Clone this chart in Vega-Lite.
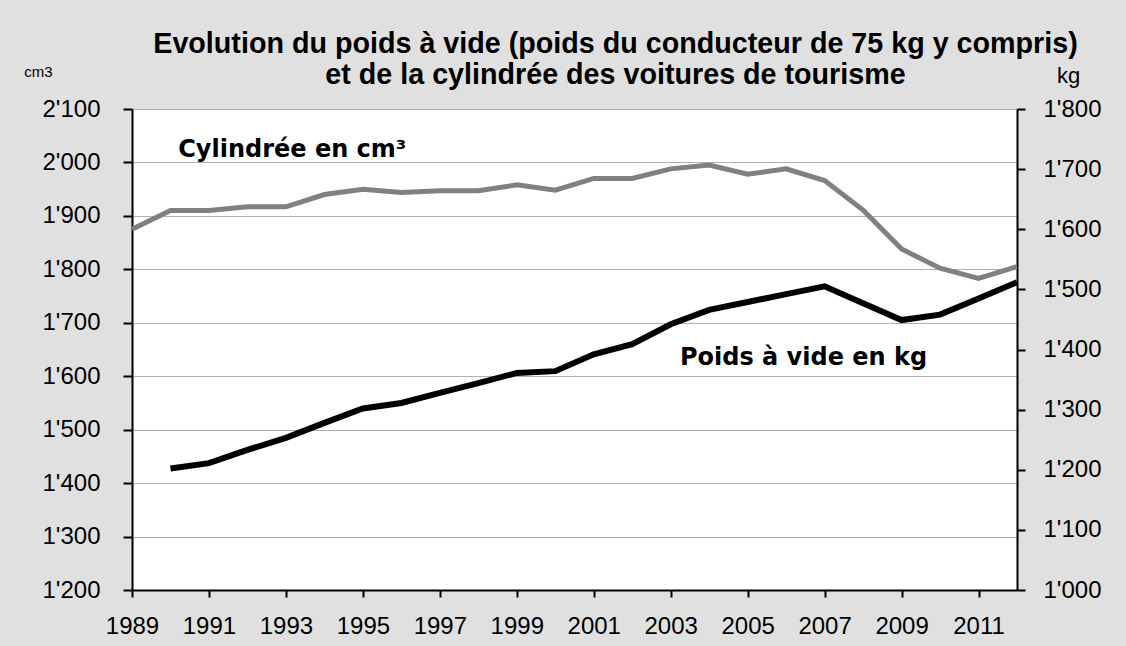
{
  "$schema": "https://vega.github.io/schema/vega-lite/v6.json",
  "width": 885,
  "height": 481,
  "autosize": "none",
  "padding": {"left": 132, "top": 109, "right": 109, "bottom": 56},
  "background": "#e0e0e0",
  "config": {
    "view": {"fill": "white", "stroke": null},
    "font": "Liberation Sans",
    "axis": {"labelFont": "Liberation Sans", "labelFontSize": 24, "labelColor": "black", "domainColor": "black", "domainWidth": 2, "tickColor": "black", "tickWidth": 2, "labelOverlap": false, "labelFlush": false}
  },
  "title": {
    "text": ["Evolution du poids à vide (poids du conducteur de 75 kg y compris)", "et de la cylindrée des voitures de tourisme"],
    "font": "Liberation Sans",
    "fontSize": 28.7,
    "fontWeight": "bold",
    "color": "black",
    "anchor": "middle",
    "dx": 41,
    "offset": -26,
    "lineHeight": 31
  },
  "datasets": {
    "series": [
      {"year": 1989, "cm3": 1875, "kg": null},
      {"year": 1990, "cm3": 1910, "kg": 1202},
      {"year": 1991, "cm3": 1910, "kg": 1211},
      {"year": 1992, "cm3": 1917, "kg": 1233},
      {"year": 1993, "cm3": 1917, "kg": 1253},
      {"year": 1994, "cm3": 1940, "kg": 1278},
      {"year": 1995, "cm3": 1950, "kg": 1302},
      {"year": 1996, "cm3": 1944, "kg": 1311},
      {"year": 1997, "cm3": 1947, "kg": 1328},
      {"year": 1998, "cm3": 1947, "kg": 1344},
      {"year": 1999, "cm3": 1958, "kg": 1361},
      {"year": 2000, "cm3": 1948, "kg": 1364},
      {"year": 2001, "cm3": 1970, "kg": 1392},
      {"year": 2002, "cm3": 1970, "kg": 1409},
      {"year": 2003, "cm3": 1988, "kg": 1442},
      {"year": 2004, "cm3": 1995, "kg": 1466},
      {"year": 2005, "cm3": 1978, "kg": 1479},
      {"year": 2006, "cm3": 1988, "kg": 1492},
      {"year": 2007, "cm3": 1966, "kg": 1505},
      {"year": 2008, "cm3": 1911, "kg": 1477},
      {"year": 2009, "cm3": 1838, "kg": 1449},
      {"year": 2010, "cm3": 1802, "kg": 1458},
      {"year": 2011, "cm3": 1783, "kg": 1485},
      {"year": 2012, "cm3": 1805, "kg": 1512}
    ],
    "cylLabel": [{"year": 1990.2, "cm3": 2010, "label": "Cylindrée en cm³"}],
    "kgLabel": [{"year": 2003.24, "kg": 1374, "label": "Poids à vide en kg"}]
  },
  "layer": [
    {
      "encoding": {
        "x": {
          "field": "year", "type": "quantitative",
          "scale": {"domain": [1989, 2012], "nice": false, "zero": false},
          "axis": {
            "title": null, "grid": false,
            "values": [1989,1990,1991,1992,1993,1994,1995,1996,1997,1998,1999,2000,2001,2002,2003,2004,2005,2006,2007,2008,2009,2010,2011,2012],
            "labelExpr": "datum.value % 2 == 1 ? format(datum.value, 'd') : ''",
            "tickSize": 7, "labelPadding": 17
          }
        },
        "y": {
          "field": "cm3", "type": "quantitative",
          "scale": {"domain": [1200, 2100], "nice": false, "zero": false},
          "axis": {
            "orient": "left",
            "values": [1200,1300,1400,1500,1600,1700,1800,1900,2000,2100],
            "labelExpr": "replace(format(datum.value, ','), ',', \"'\")",
            "grid": true, "gridColor": "#606060", "gridDash": [1, 1], "gridWidth": 1,
            "tickSize": 9, "labelPadding": 23,
            "title": "cm3", "titleFont": "Liberation Sans", "titleFontSize": 15, "titleFontWeight": "normal", "titleColor": "black",
            "titleAngle": 0, "titleAlign": "center", "titleBaseline": "alphabetic", "titleX": -94, "titleY": -33
          }
        }
      },
      "layer": [
        {
          "data": {"name": "series"},
          "mark": {"type": "line", "color": "#808080", "strokeWidth": 5, "strokeJoin": "miter"}
        },
        {
          "data": {"name": "cylLabel"},
          "mark": {"type": "text", "align": "left", "baseline": "alphabetic", "font": "DejaVu Sans", "fontSize": 24, "fontWeight": "bold", "color": "black"},
          "encoding": {"text": {"field": "label"}}
        }
      ]
    },
    {
      "encoding": {
        "x": {
          "field": "year", "type": "quantitative",
          "scale": {"domain": [1989, 2012], "nice": false, "zero": false}
        },
        "y": {
          "field": "kg", "type": "quantitative",
          "scale": {"domain": [1000, 1800], "nice": false, "zero": false},
          "axis": {
            "orient": "right",
            "values": [1000,1100,1200,1300,1400,1500,1600,1700,1800],
            "labelExpr": "replace(format(datum.value, ','), ',', \"'\")",
            "grid": false, "tickSize": 8, "labelPadding": 18,
            "title": "kg", "titleFont": "Liberation Sans", "titleFontSize": 22, "titleFontWeight": "normal", "titleColor": "black",
            "titleAngle": 0, "titleAlign": "center", "titleBaseline": "alphabetic", "titleX": 51, "titleY": -27
          }
        }
      },
      "layer": [
        {
          "data": {"name": "series"},
          "mark": {"type": "line", "color": "black", "strokeWidth": 6, "strokeJoin": "miter"}
        },
        {
          "data": {"name": "kgLabel"},
          "mark": {"type": "text", "align": "left", "baseline": "alphabetic", "font": "DejaVu Sans", "fontSize": 24, "fontWeight": "bold", "color": "black"},
          "encoding": {"text": {"field": "label"}}
        }
      ]
    }
  ],
  "resolve": {"scale": {"y": "independent"}}
}
